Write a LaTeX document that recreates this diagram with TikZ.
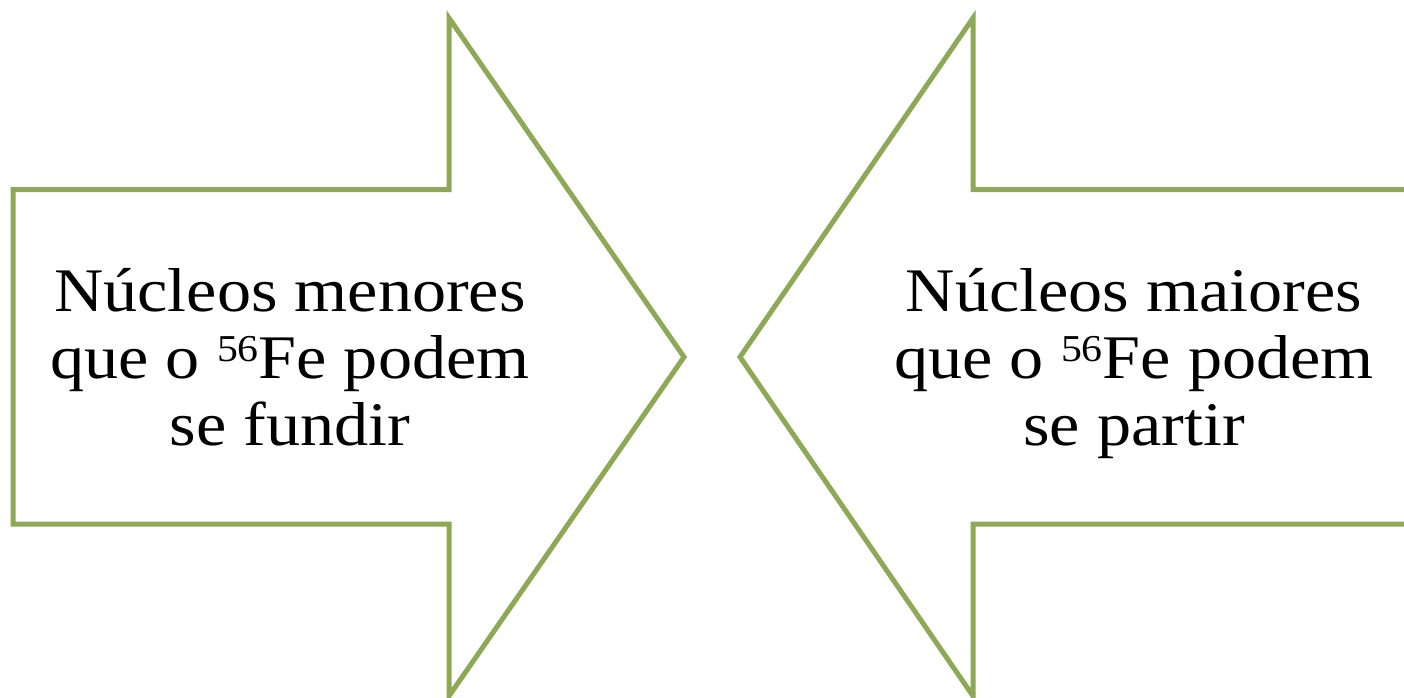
\documentclass[tikz,border=0pt]{standalone}
\usepackage{fontspec}
\setmainfont[FakeStretch=1.1]{Liberation Serif}
\definecolor{arrowgreen}{HTML}{8DA955}
\newcommand{\isosup}[1]{\raisebox{0.27em}{\fontsize{38}{38}\selectfont #1}}
\begin{document}
\begin{tikzpicture}[x=1pt,y=-1pt,
  blockarrow/.style={draw=arrowgreen,line width=5pt,fill=white,line join=miter},
  txt/.style={anchor=base,inner sep=0pt,font=\fontsize{62}{67}\selectfont}]
\useasboundingbox (0,0) rectangle (1404,697);
\clip (0,0) rectangle (1404,697);
\fill[white] (0,0) rectangle (1404,697);
\draw[blockarrow] (13,189.5) -- (449,189.5) -- (449,18) -- (684,357) -- (449,696) -- (449,524) -- (13,524) -- cycle;
\draw[blockarrow] (1415,189.5) -- (973,189.5) -- (973,18) -- (740,357) -- (973,696) -- (973,524) -- (1415,524) -- cycle;
\node[txt] (l1) at (290,311) {Núcleos menores};
\node[txt] (l2) at (290,378) {que o \isosup{56}Fe podem};
\node[txt] (l3) at (290,445) {se fundir};
\node[txt] (r1) at (1134,311) {Núcleos maiores};
\node[txt] (r2) at (1134,378) {que o \isosup{56}Fe podem};
\node[txt] (r3) at (1134,445) {se partir};
\end{tikzpicture}
\end{document}
